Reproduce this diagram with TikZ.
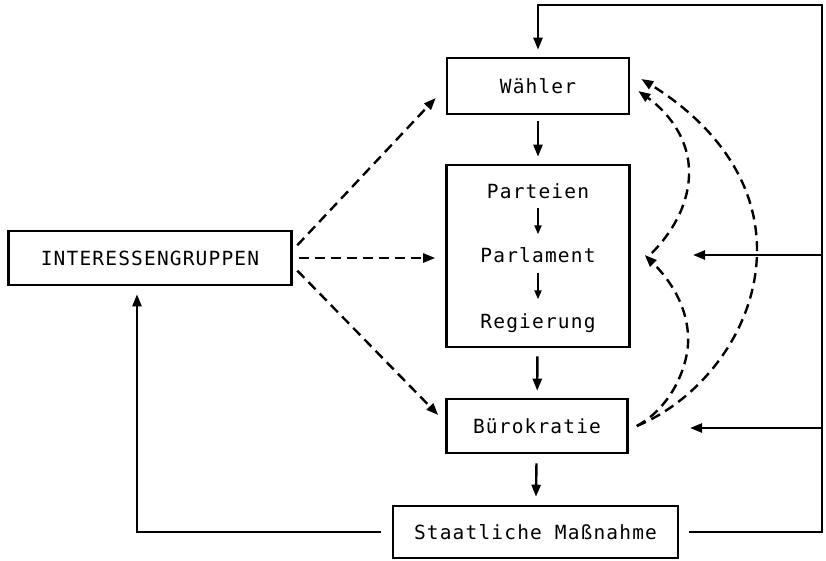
\documentclass[tikz,border=0pt]{standalone}
\usepackage{fontspec}
\newfontfamily\plotfont[LetterSpace=6]{DejaVu Sans Mono}
\usetikzlibrary{arrows.meta}
\begin{document}
\begin{tikzpicture}[x=1pt,y=-1pt,
  txt/.style={font=\plotfont\fontsize{19.5}{21}\selectfont},
  box/.style={txt, draw, line width=2.6pt, rectangle, inner sep=0pt},
  lbl/.style={txt, inner sep=0pt, text height=15pt, text depth=4pt},
  arr/.style={line width=2.4pt, -{Triangle[length=12pt,width=9pt]}},
  sarr/.style={line width=2pt, -{Triangle[length=9pt,width=7pt]}},
  darr/.style={arr, dash pattern=on 10pt off 6pt},
]
\useasboundingbox (0,0) rectangle (826,560);

% boxes
\node[box, minimum width=182pt, minimum height=56pt] (w) at (538,86) {Wähler};
\node[box, minimum width=183pt, minimum height=182pt] (r) at (538,256) {};
\node[lbl] (p1) at (538,193) {Parteien};
\node[lbl] (p2) at (538,257) {Parlament};
\node[lbl] (p3) at (538,323) {Regierung};
\node[box, minimum width=181pt, minimum height=54pt] (b) at (537,426) {Bürokratie};
\node[box, minimum width=285pt, minimum height=52pt] (s) at (535.5,532) {Staatliche Maßnahme};
\node[box, minimum width=283pt, minimum height=54pt] (i) at (150,258) {INTERESSENGRUPPEN};

% inner arrows
\draw[sarr, shorten <=5pt, shorten >=13pt] (p1) -- (p2);
\draw[sarr, shorten <=6pt, shorten >=14pt] (p2) -- (p3);

% vertical flow
\draw[arr, shorten <=6pt, shorten >=7pt] (w) -- (r);
\draw[arr, shorten <=8pt, shorten >=7pt] (r) -- (b);
\draw[arr, shorten <=9pt, shorten >=8pt] (b) -- (s);

% feedback loop right
\coordinate (rc) at (822,5);
\draw[arr, shorten <=10pt, shorten >=7pt] (s.east) -| (rc) -| (w.north);
\coordinate (j1) at (822,255);
\coordinate (t1) at (693,255);
\coordinate (j2) at (822,428);
\coordinate (t2) at (690,428);
\draw[arr] (j1) -- (t1);
\draw[arr] (j2) -- (t2);

% feedback loop left
\draw[arr, shorten <=11pt, shorten >=8pt] (s.west) -| ([xshift=-13pt]i.south);

% interest groups influence
\draw[darr, shorten <=6.5pt] ([yshift=8pt]i.east) -- ([xshift=-10pt,yshift=-12pt]w.west);
\draw[darr, shorten <=6.5pt, shorten >=10pt] (i.east) -- (r.west |- i.east);
\draw[darr, shorten <=6.5pt] ([yshift=-8pt]i.east) -- ([xshift=-7pt,yshift=11pt]b.west);

% bureaucracy influence curves
\draw[darr] ([xshift=8pt]b.east) .. controls (700,400) and (757,330) .. (757,250)
   .. controls (757,170) and (700,115) .. ([xshift=11pt,yshift=7pt]w.east);
\draw[darr] ([xshift=8pt]b.east) .. controls (675,405) and (690,360) .. (688,335)
   .. controls (686,300) and (665,275) .. ([xshift=14pt,yshift=1pt]r.east);
\draw[darr] ([xshift=21pt,yshift=3pt]r.east) .. controls (670,235) and (690,205) .. (689,170)
   .. controls (688,135) and (665,110) .. ([xshift=8pt,yshift=-5pt]w.east);
\end{tikzpicture}
\end{document}
